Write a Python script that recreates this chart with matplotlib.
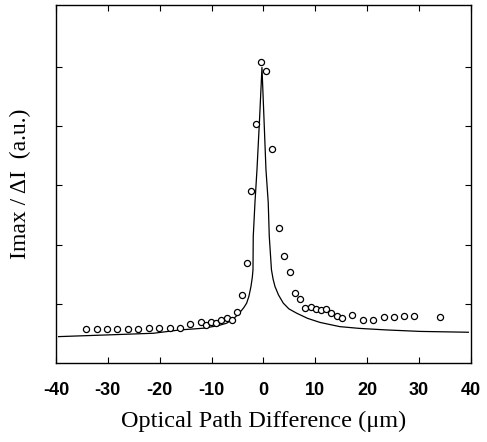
import matplotlib
matplotlib.use("Agg")
import matplotlib.pyplot as plt

plt.rcParams["axes.unicode_minus"] = False

# measured data points (circles)
opd_points = [-34.2, -32.1, -30.2, -28.2, -26.2, -24.1, -22.1, -20.1, -18.1, -16.1,
              -14.1, -12.1, -11.1, -10.1, -9.15, -8.12, -7.10, -6.13, -5.11, -4.14,
              -3.24, -2.34, -1.51, -0.55, 0.42, 1.57, 2.99, 4.01, 5.04, 6.01,
              7.03, 8.06, 9.09, 10.05, 11.08, 12.1, 13.07, 14.1, 15.06, 17.1,
              19.2, 21.2, 23.2, 25.1, 27.1, 29.1, 34.1]
ratio_points = [0.576, 0.576, 0.571, 0.576, 0.571, 0.576, 0.588, 0.588, 0.593, 0.599,
                0.655, 0.689, 0.644, 0.701, 0.684, 0.729, 0.768, 0.729, 0.870, 1.153,
                1.684, 2.915, 4.040, 5.08, 4.94, 3.62, 2.28, 1.80, 1.54, 1.18,
                1.08, 0.927, 0.944, 0.910, 0.898, 0.915, 0.842, 0.797, 0.768, 0.814,
                0.729, 0.729, 0.774, 0.774, 0.802, 0.802, 0.774]

# fitted curve
opd_curve = [-39.5, -30.0, -21.2, -16.1, -11.6, -8.8, -7.09, -5.8, -4.66, -3.8,
             -3.24, -2.8, -2.41, -2.15, -2.02, -1.97, -1.64, -1.25, -0.75, -0.29,
             0.1, 0.48, 0.92, 1.12, 1.54, 1.85, 2.22, 2.9, 3.82, 4.9,
             6.40, 8.5, 10.9, 14.7, 18.5, 23.7, 30.2, 39.5]
ratio_curve = [0.446, 0.475, 0.503, 0.559, 0.588, 0.630, 0.673, 0.745, 0.842, 0.935,
               1.012, 1.13, 1.293, 1.45, 1.576, 2.14, 2.71, 3.27, 4.13, 4.995,
               4.13, 3.27, 2.71, 2.14, 1.576, 1.42, 1.293, 1.15, 1.012, 0.915,
               0.842, 0.755, 0.686, 0.615, 0.585, 0.559, 0.534, 0.52]

x_ticks = [-40, -30, -20, -10, 0, 10, 20, 30, 40]
y_ticks = [1, 2, 3, 4, 5]

fig = plt.figure(figsize=(4.87, 4.42), dpi=100)
ax = fig.add_axes([0.115, 0.1787, 0.852, 0.81])

ax.plot(opd_curve, ratio_curve, color="black", lw=0.9)
ax.plot(opd_points, ratio_points, linestyle="none", marker="o", markersize=4.4,
        markerfacecolor="white", markeredgecolor="black", markeredgewidth=0.9)

ax.set_xlim(-40, 40)
ax.set_ylim(0, 6.05)
ax.set_xticks(x_ticks)
ax.set_yticks(y_ticks)
ax.set_yticklabels([])
ax.tick_params(direction="in", length=4, width=0.8, top=True, right=True,
               labelsize=13, pad=14)
for lbl in ax.get_xticklabels():
    lbl.set_family("Liberation Sans")
    lbl.set_fontweight("bold")
for s in ax.spines.values():
    s.set_linewidth(1.0)

ax.set_xlabel("Optical Path Difference (\u03bcm)", family="Liberation Serif",
              fontsize=17.5, labelpad=8)
ax.set_ylabel("Imax / \u0394I  (a.u.)", family="Liberation Serif",
              fontsize=17, labelpad=4)

fig.savefig("out.png", dpi=100)
